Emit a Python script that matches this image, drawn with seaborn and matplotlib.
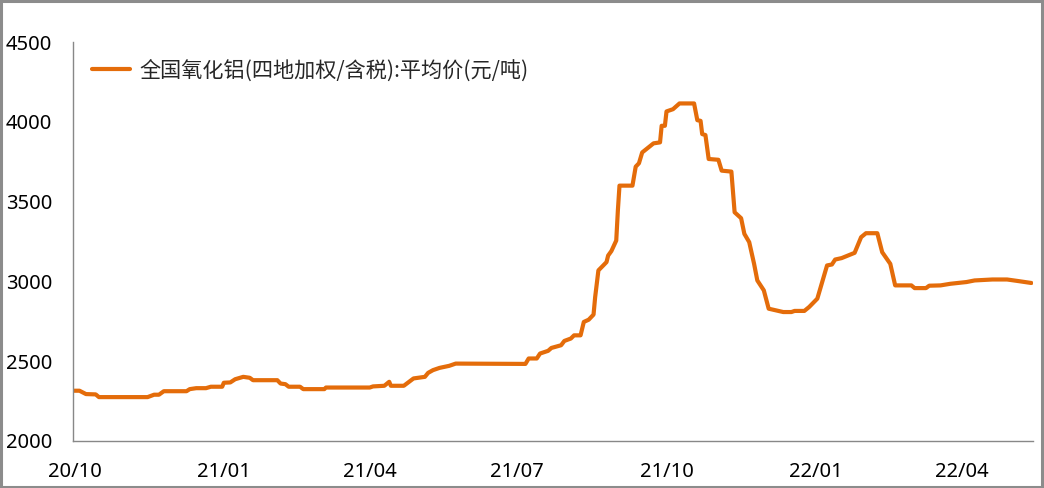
import matplotlib
matplotlib.use("Agg")
import matplotlib.pyplot as plt
import matplotlib.dates as mdates
from matplotlib.patches import Rectangle
import pandas as pd
import seaborn as sns

# price series
dates = [
    "2020-09-30", "2020-10-04", "2020-10-08", "2020-10-14", "2020-10-16", "2020-11-15", "2020-11-19",
    "2020-11-22", "2020-11-25", "2020-12-09", "2020-12-11", "2020-12-15", "2020-12-21", "2020-12-24",
    "2020-12-31",
    "2021-01-01", "2021-01-05", "2021-01-08", "2021-01-13", "2021-01-17", "2021-01-19", "2021-02-03",
    "2021-02-05", "2021-02-08", "2021-02-10", "2021-02-17", "2021-02-19", "2021-03-04", "2021-03-05",
    "2021-04-01", "2021-04-03", "2021-04-10", "2021-04-13", "2021-04-14", "2021-04-22", "2021-04-28",
    "2021-05-05", "2021-05-07", "2021-05-10", "2021-05-14", "2021-05-20", "2021-05-24",
    "2021-07-06", "2021-07-08", "2021-07-13", "2021-07-15", "2021-07-20", "2021-07-22", "2021-07-28",
    "2021-07-30", "2021-08-03", "2021-08-05", "2021-08-09", "2021-08-11", "2021-08-14", "2021-08-17",
    "2021-08-18", "2021-08-20", "2021-08-23", "2021-08-25", "2021-08-26", "2021-08-28", "2021-08-31",
    "2021-09-01", "2021-09-02", "2021-09-10", "2021-09-12", "2021-09-14", "2021-09-16", "2021-09-23",
    "2021-09-27", "2021-09-28", "2021-09-30",
    "2021-10-01", "2021-10-05", "2021-10-09", "2021-10-18", "2021-10-20", "2021-10-22", "2021-10-23",
    "2021-10-25", "2021-10-27", "2021-11-02", "2021-11-04", "2021-11-10", "2021-11-12", "2021-11-16",
    "2021-11-18", "2021-11-21", "2021-11-24", "2021-11-26", "2021-11-30", "2021-12-03", "2021-12-09",
    "2021-12-12", "2021-12-17", "2021-12-19", "2021-12-25", "2021-12-28",
    "2022-01-02", "2022-01-08", "2022-01-11", "2022-01-13", "2022-01-17", "2022-01-25", "2022-01-29",
    "2022-02-01", "2022-02-08", "2022-02-11", "2022-02-16", "2022-02-19", "2022-03-01", "2022-03-03",
    "2022-03-10", "2022-03-12", "2022-03-19", "2022-03-25", "2022-04-04", "2022-04-09", "2022-04-20",
    "2022-04-29", "2022-05-06", "2022-05-14",
]
prices = [
    2315, 2315, 2294, 2292, 2275, 2275, 2290, 2290, 2312, 2312, 2325, 2331, 2331, 2340, 2340,
    2365, 2367, 2387, 2402, 2396, 2381, 2381, 2360, 2356, 2340, 2340, 2325, 2325, 2335, 2335,
    2342, 2346, 2371, 2346, 2346, 2392, 2402, 2427, 2444, 2458, 2471, 2485,
    2483, 2517, 2517, 2548, 2565, 2583, 2600, 2627, 2642, 2662, 2662, 2746, 2760, 2792, 2902,
    3069, 3100, 3121, 3162, 3190, 3256, 3444, 3600, 3600, 3719, 3740, 3808, 3865, 3871, 3975, 3975,
    4065, 4079, 4115, 4115, 4010, 4006, 3923, 3917, 3767, 3762, 3694, 3688, 3433, 3396, 3298,
    3246, 3110, 3006, 2944, 2829, 2815, 2808, 2808, 2815, 2815, 2840,
    2892, 3100, 3106, 3137, 3146, 3179, 3277, 3302, 3302, 3183, 3110, 2975, 2975, 2958, 2958,
    2973, 2975, 2985, 2996, 3006, 3012, 3012, 3002, 2990,
]
series_name = "全国氧化铝(四地加权/含税):平均价(元/吨)"
tick_months = ["2020-10-01", "2021-01-01", "2021-04-01", "2021-07-01",
               "2021-10-01", "2022-01-01", "2022-04-01"]
y_ticks = [2000, 2500, 3000, 3500, 4000, 4500]

df = pd.DataFrame({"date": pd.to_datetime(dates), "price": prices})

sns.set_style("white")
plt.rcParams["font.family"] = ["Noto Sans CJK SC", "DejaVu Sans"]

fig = plt.figure(figsize=(10.44, 4.88), dpi=100)
ax = fig.add_axes([73 / 1044, 1 - 441 / 488, 960 / 1044, 399 / 488])

sns.lineplot(data=df, x="date", y="price", ax=ax, color="#E46C0A",
             linewidth=3.0, label=series_name)

ax.set_xlim(pd.Timestamp("2020-09-30"), pd.Timestamp("2022-05-15"))
ax.set_ylim(2000, 4500)
ax.set_yticks(y_ticks)
ax.set_xticks(pd.to_datetime(tick_months))
ax.xaxis.set_major_formatter(mdates.DateFormatter("%y/%m"))
ax.set_xlabel("")
ax.set_ylabel("")

for side in ["top", "right"]:
    ax.spines[side].set_visible(False)
for side in ["left", "bottom"]:
    ax.spines[side].set_color("#888888")
    ax.spines[side].set_linewidth(1.0)

ax.tick_params(axis="both", length=0, labelsize=14.5, colors="black")
ax.tick_params(axis="y", pad=15)
ax.tick_params(axis="x", pad=15)
for lab in ax.get_xticklabels() + ax.get_yticklabels():
    lab.set_fontfamily(["Noto Sans", "DejaVu Sans"])

leg = ax.legend(loc="center left", bbox_to_anchor=(0.02, 0.928), frameon=False,
                fontsize=15.2, handlelength=1.8, handletextpad=0.45,
                borderpad=0, borderaxespad=0)

fig.patches.append(Rectangle((0.001, 0.002), 0.997, 0.995, transform=fig.transFigure,
                             fill=False, edgecolor="#8c8c8c", linewidth=2.2))

fig.savefig("out.png", dpi=100)
